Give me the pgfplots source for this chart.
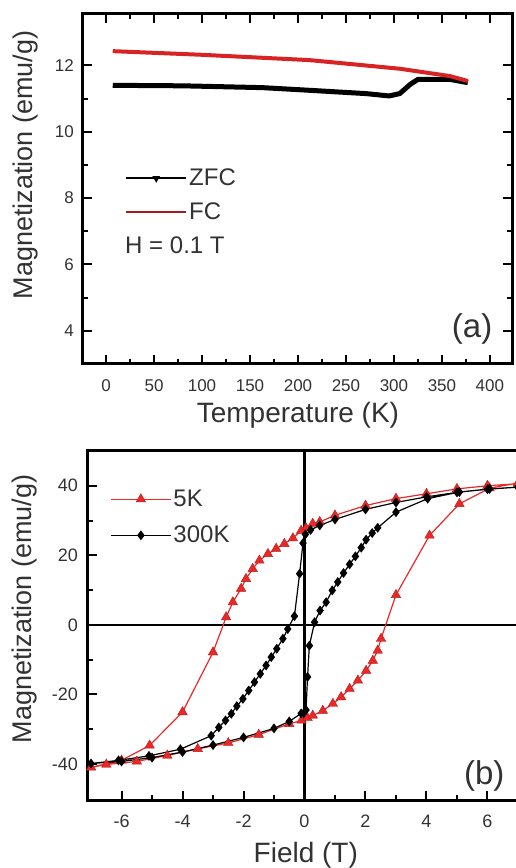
\documentclass[border=0pt]{standalone}
\usepackage{fontspec}
\setmainfont{Liberation Sans}
\usepackage{pgfplots}
\pgfplotsset{compat=1.18}
\definecolor{fcred}{RGB}{215,35,35}
\definecolor{fcleg}{RGB}{170,25,25}
\definecolor{tri}{RGB}{235,40,40}
\definecolor{tl}{RGB}{50,50,50}
\pgfplotsset{
  common/.style={
    scale only axis,
    tick align=inside,
    major tick length=9pt, minor tick length=5pt,
    tick style={black, line width=2pt},
    axis line style={line width=3pt},
    /pgf/number format/assume math mode=true,
    xticklabel style={anchor=base, inner sep=0pt, yshift=-28pt, text=tl},
    yticklabel style={anchor=east, inner sep=0pt, xshift=-9pt, text=tl},
    legend image code/.code={\draw[mark repeat=2,mark phase=2,##1] plot coordinates {(0pt,0pt) (30pt,0pt) (60pt,0pt)};},
  }
}
\begin{document}
\begin{tikzpicture}[x=1pt,y=1pt]
% ---------------- (a) ----------------
\begin{axis}[common,
  at={(83pt,504pt)}, anchor=south west,
  width=429pt, height=350pt,
  xmin=-24, xmax=423, ymin=3, ymax=13.55,
  xtick={0,50,...,400}, minor x tick num=1,
  ytick={4,6,...,12}, minor y tick num=1,
  tick label style={font=\fontsize{17}{17}\selectfont},
  xlabel={Temperature (K)},
  xlabel style={at={(axis description cs:0.501,-0.166)}, anchor=base, font=\fontsize{28}{28}\selectfont, text=tl},
  ylabel={Magnetization (emu/g)},
  ylabel style={at={(axis description cs:-0.135,0.569)}, anchor=center, font=\fontsize{27}{27}\selectfont, text=tl},
  legend style={draw=none, fill=none, inner sep=0pt, row sep=11pt,
    at={(axis description cs:0.098,0.563)}, anchor=north west,
    font=\fontsize{24}{24}\selectfont, nodes={inner sep=2pt, text=tl}},
  legend cell align=left,
]
\addplot[black, line width=5pt, line join=round, forget plot] coordinates {
 (7,11.40) (80,11.385) (163,11.33) (212,11.25) (271,11.15) (295,11.08)
 (306,11.15) (317,11.43) (325,11.58) (358,11.58) (377,11.48)};
\addplot[fcred, line width=4pt, line join=round, forget plot] coordinates {
 (7,12.43) (100,12.32) (212,12.16) (306,11.90) (358,11.68) (377,11.53)};
\addlegendimage{black, line width=2pt, mark=triangle*, mark size=2.5pt, mark options={rotate=180}}
\addlegendentry{ZFC}
\addlegendimage{fcleg, line width=2pt}
\addlegendentry{FC}
\node[anchor=base west, font=\fontsize{24}{24}\selectfont, inner sep=0pt, text=tl] at (axis description cs:0.098,0.316) {H = 0.1 T};
\node[font=\fontsize{33}{33}\selectfont, inner sep=0pt, text=tl] at (axis description cs:0.907,0.10) {(a)};
\end{axis}
% ---------------- (b) ----------------
\begin{axis}[common,
  at={(88pt,68pt)}, anchor=south west,
  width=433pt, height=349pt,
  xmin=-7.1, xmax=7.1, ymin=-50.4, ymax=50,
  xtick={-6,-4,...,6}, minor x tick num=1,
  ytick={-40,-20,...,40}, minor y tick num=1,
  xtick pos=bottom, ytick pos=left,
  tick label style={font=\fontsize{18}{18}\selectfont},
  xticklabel style={yshift=1pt},
  yticklabel style={xshift=-1pt},
  xlabel={Field (T)},
  xlabel style={at={(axis description cs:0.503,-0.18)}, anchor=base, font=\fontsize{28}{28}\selectfont, text=tl},
  ylabel={Magnetization (emu/g)},
  ylabel style={at={(axis description cs:-0.147,0.547)}, anchor=center, font=\fontsize{27}{27}\selectfont, text=tl},
  legend style={draw=none, fill=none, inner sep=0pt, row sep=14pt,
    at={(axis description cs:0.051,0.894)}, anchor=north west,
    font=\fontsize{24}{24}\selectfont, nodes={inner sep=2pt, text=tl}},
  legend cell align=left,
]
\draw[line width=2.2pt] (axis cs:0,-50.4) -- (axis cs:0,50);
\draw[line width=2.2pt] (axis cs:-7.1,0) -- (axis cs:7.1,0);
\addplot[color=tri, line width=1.2pt, mark=triangle*, mark size=5.5pt,
  mark options={fill=tri, draw=tri!75!black, line width=0.4pt}] coordinates {
 (7.0,40.6) (6.0,40.0) (5.0,39.1) (4.0,37.7) (3.0,36.3) (2.0,34.3) (1.0,31.5)
 (0.5,29.6) (0.27,29.1) (0.05,27.8) (-0.11,27.1) (-0.38,24.9) (-0.66,23.3)
 (-0.93,21.9) (-1.2,20.4) (-1.48,18.5) (-1.7,16.1) (-1.92,13.2) (-2.08,10.4)
 (-2.35,6.5) (-2.57,2.2) (-3.0,-7.9) (-4.0,-25.1) (-5.08,-34.7) (-6.0,-39.0)
 (-7.0,-41.0)
 (-6.5,-40.2) (-5.5,-39.3) (-4.5,-37.6) (-3.5,-35.7) (-2.5,-34.0) (-1.5,-31.6)
 (-0.5,-28.5) (-0.1,-27.5) (0.1,-26.8) (0.27,-26.1) (0.6,-24.7) (0.93,-22.7)
 (1.2,-20.8) (1.48,-18.4) (1.75,-16.0) (2.02,-13.2) (2.24,-10.3) (2.40,-7.4)
 (2.51,-4.0) (3.0,8.6) (4.1,25.7) (5.08,34.8) (6.07,39.3) (7.0,40.8)};
\addlegendentry{5K}
\addplot[black, line width=1.2pt, mark=diamond*, mark size=4pt,
  mark options={fill=black, solid}] coordinates {
 (7.0,39.6) (6.0,39.0) (5.0,38.1) (4.0,36.8) (3.0,35.2) (2.0,33.2) (1.0,30.3)
 (0.5,28.6) (0.2,27.3) (0.03,26.0) (-0.05,23.5) (-0.16,14.7) (-0.33,2.5)
 (-0.55,-1.2) (-0.71,-4.0) (-0.91,-6.9) (-1.09,-9.3) (-1.26,-11.7)
 (-1.45,-14.1) (-1.64,-16.5) (-1.83,-18.9) (-2.02,-21.3) (-2.22,-23.4)
 (-2.4,-25.6) (-2.59,-27.5) (-2.81,-29.5) (-3.06,-31.9)
 (-4.07,-35.8) (-5.1,-37.7) (-6.1,-39.0) (-7.0,-39.9)
 (-6.0,-39.3) (-5.0,-38.2) (-4.0,-36.6) (-3.0,-34.6) (-2.0,-32.4) (-1.0,-29.8)
 (-0.5,-27.8) (-0.11,-25.5) (0.05,-24.5) (0.1,-15.0) (0.16,-6.0) (0.33,0.75)
 (0.51,4.1) (0.71,6.5) (0.91,9.9) (1.09,12.3) (1.28,14.9) (1.48,17.4)
 (1.67,19.7) (1.86,22.2) (2.02,24.5) (2.22,26.4) (2.40,27.9) (3.0,32.4)
 (4.04,36.3) (5.08,38.2) (6.07,39.1) (7.0,39.6)};
\addlegendentry{300K}
\node[font=\fontsize{33}{33}\selectfont, inner sep=0pt, text=tl] at (axis description cs:0.915,0.07) {(b)};
\end{axis}
\pgfresetboundingbox
\path[use as bounding box] (0pt,0pt) rectangle (515pt,868pt);
\end{tikzpicture}
\end{document}
